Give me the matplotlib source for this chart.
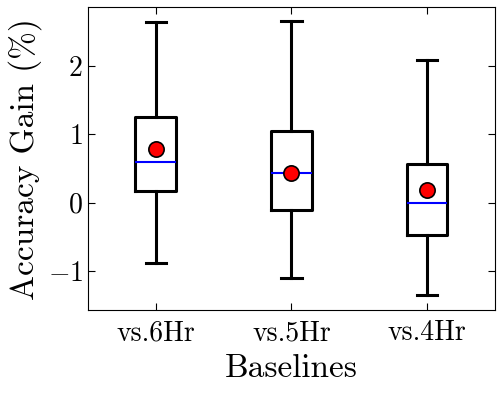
import matplotlib
matplotlib.use("Agg")
import matplotlib.pyplot as plt

plt.rcParams['font.family'] = 'cmr10'
plt.rcParams['mathtext.fontset'] = 'cm'
plt.rcParams['axes.formatter.use_mathtext'] = True

baselines = ['vs.6Hr', 'vs.5Hr', 'vs.4Hr']
whisker_low = [-0.88, -1.10, -1.35]
q1 = [0.17, -0.10, -0.47]
medians = [0.59, 0.43, -0.01]
q3 = [1.26, 1.05, 0.56]
whisker_high = [2.64, 2.66, 2.09]
means = [0.78, 0.43, 0.18]

stats = []
for i in range(len(baselines)):
    stats.append({
        'label': baselines[i],
        'whislo': whisker_low[i],
        'q1': q1[i],
        'med': medians[i],
        'q3': q3[i],
        'whishi': whisker_high[i],
        'mean': means[i],
        'fliers': [],
    })

fig = plt.figure(figsize=(5.02, 3.96), dpi=100)
ax = fig.add_axes([0.175, 0.217, 0.811, 0.765])

ax.bxp(stats, showmeans=True, widths=0.3,
       boxprops=dict(color='black', linewidth=2.2),
       whiskerprops=dict(color='black', linewidth=2.2),
       capprops=dict(color='black', linewidth=2.2),
       medianprops=dict(color='blue', linewidth=1.5),
       meanprops=dict(marker='o', markerfacecolor='red', markeredgecolor='black',
                      markeredgewidth=1.2, markersize=11))

ax.set_xlim(0.5, 3.5)
ax.set_ylim(-1.57, 2.86)
ax.set_yticks([-1, 0, 1, 2])
ax.tick_params(direction='in', top=True, right=True, length=5, labelsize=20)
ax.tick_params(axis='x', pad=7)
ax.set_xlabel('Baselines', fontsize=24, labelpad=6)
ax.set_ylabel('Accuracy Gain (%)', fontsize=24)

fig.savefig('out.png', dpi=100)
